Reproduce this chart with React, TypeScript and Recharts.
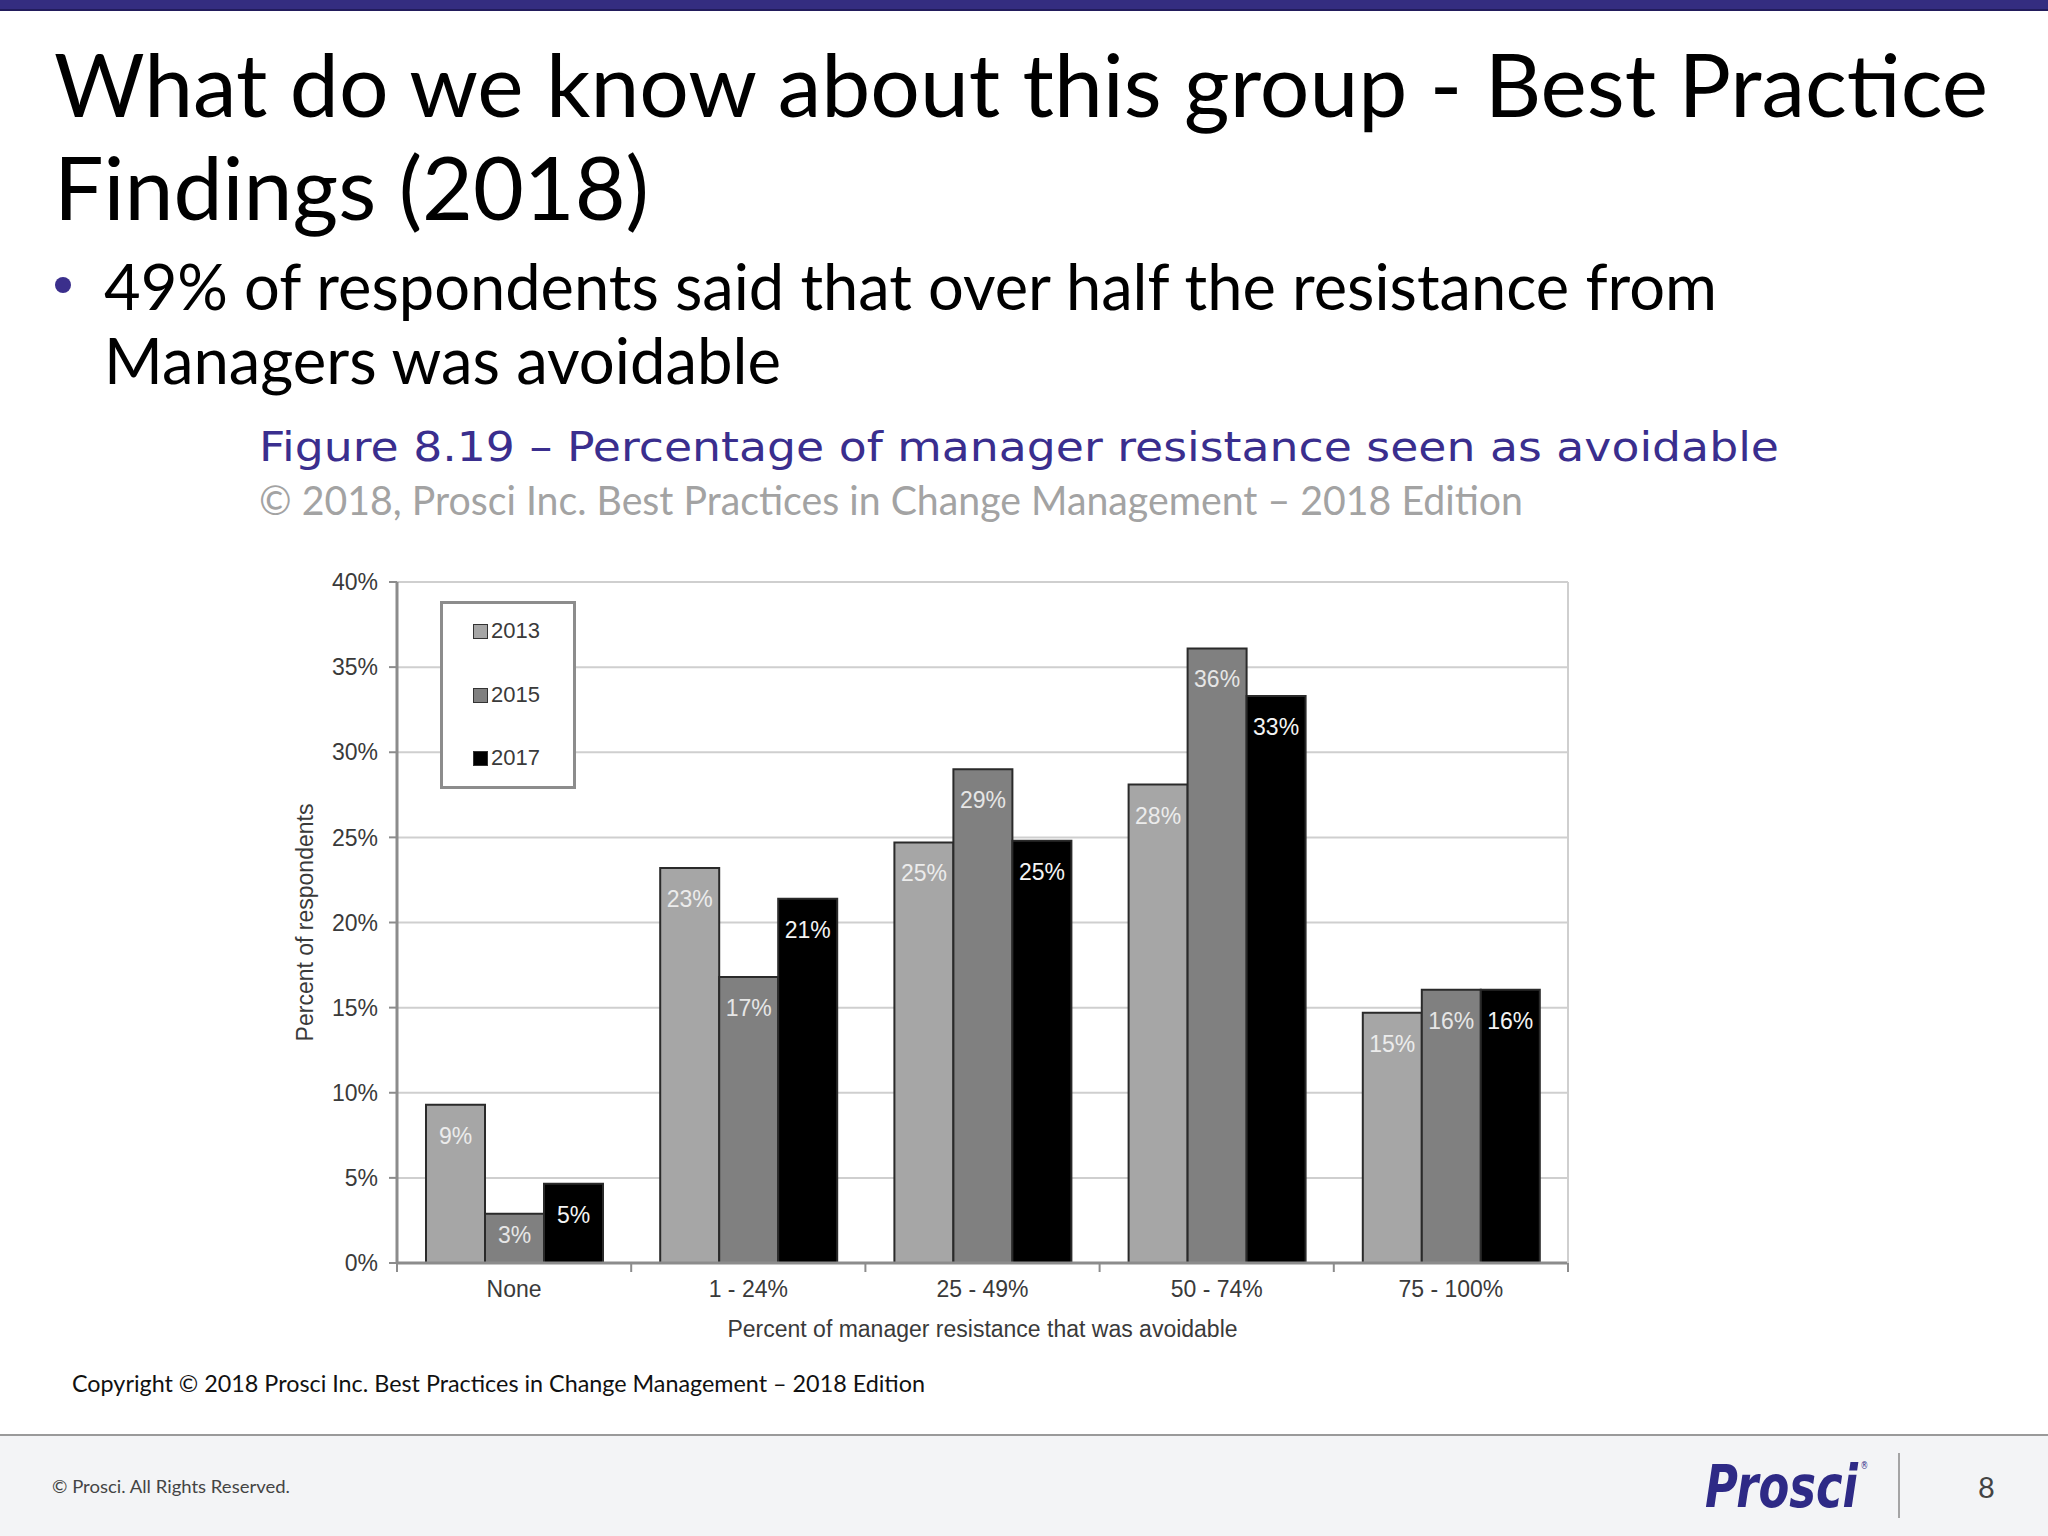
import {
  Bar,
  BarChart,
  CartesianGrid,
  Label,
  LabelList,
  Legend,
  XAxis,
  YAxis,
} from 'recharts'

const categories = ['None', '1 - 24%', '25 - 49%', '50 - 74%', '75 - 100%']
const values2013 = [9.3, 23.2, 24.7, 28.1, 14.7]
const values2015 = [2.9, 16.8, 29.0, 36.1, 16.05]
const values2017 = [4.65, 21.4, 24.8, 33.3, 16.05]
const yTicks = [0, 5, 10, 15, 20, 25, 30, 35, 40]

const series = [
  { key: 'y2013', name: '2013', fill: '#a6a6a6', label: '#ececec' },
  { key: 'y2015', name: '2015', fill: '#808080', label: '#e6e6e6' },
  { key: 'y2017', name: '2017', fill: '#000000', label: '#f4f4f4' },
]

const data = categories.map((name, i) => ({
  name,
  y2013: values2013[i],
  y2015: values2015[i],
  y2017: values2017[i],
}))

const CHART_W = 1320
const CHART_H = 800
const Y_AXIS_W = 117
const RIGHT_W = 32
const PLOT_W = CHART_W - Y_AXIS_W - RIGHT_W
const CHART_FONT = '"Liberation Sans", Arial, sans-serif'
const SLIDE_FONT = 'Lato, "Open Sans", sans-serif'
const axisGray = '#8c8c8c'
const textGray = '#3a3a3a'

function XTick(props: any) {
  const { x, y, payload, index } = props
  const band = PLOT_W / categories.length
  const left = x - band / 2
  return (
    <g>
      <line x1={left} y1={y} x2={left} y2={y + 9} stroke={axisGray} strokeWidth={2} />
      {index === categories.length - 1 && (
        <line x1={left + band} y1={y} x2={left + band} y2={y + 9} stroke={axisGray} strokeWidth={2} />
      )}
      <text
        x={x}
        y={y + 34}
        textAnchor="middle"
        fill={textGray}
        fontSize={23}
        fontFamily={CHART_FONT}
      >
        {payload.value}
      </text>
    </g>
  )
}

function barLabel(color: string) {
  return (props: any) => {
    const { x, y, width, height, value } = props
    const baseline = Math.min(y + 39, y + height * 0.6)
    return (
      <text
        x={x + width / 2}
        y={baseline}
        textAnchor="middle"
        fill={color}
        fontSize={23}
        fontFamily={CHART_FONT}
      >
        {`${Math.round(value)}%`}
      </text>
    )
  }
}

function LegendBox() {
  return (
    <div
      style={{
        width: 136,
        height: 188,
        boxSizing: 'border-box',
        border: `3px solid ${axisGray}`,
        background: '#fff',
        position: 'relative',
      }}
    >
      {series.map((s, i) => (
        <div
          key={s.key}
          style={{
            position: 'absolute',
            left: 30,
            top: [27, 91, 154][i] - 11,
            height: 22,
            display: 'flex',
            alignItems: 'center',
          }}
        >
          <span
            style={{
              width: 15,
              height: 15,
              boxSizing: 'border-box',
              border: '1.5px solid #333',
              background: s.fill,
              display: 'inline-block',
            }}
          />
          <span
            style={{
              marginLeft: 3,
              fontSize: 22,
              lineHeight: '22px',
              fontFamily: CHART_FONT,
              color: textGray,
            }}
          >
            {s.name}
          </span>
        </div>
      ))}
    </div>
  )
}

function YTitle(props: any) {
  const vb = props.viewBox || { x: 0, y: 0, height: 0 }
  const cx = vb.x + 27
  const cy = vb.y + vb.height / 2
  return (
    <text
      x={cx}
      y={cy}
      transform={`rotate(-90 ${cx} ${cy})`}
      textAnchor="middle"
      dominantBaseline="middle"
      fill={textGray}
      fontSize={23}
      fontFamily={CHART_FONT}
    >
      Percent of respondents
    </text>
  )
}

function Slide() {
  return (
    <svg
      width={2048}
      height={1536}
      style={{ position: 'absolute', left: 0, top: 0 }}
    >
      <rect x={0} y={0} width={2048} height={1536} fill="#fff" />
      <rect x={0} y={0} width={2048} height={10} fill="#342d80" />
      <rect x={0} y={9} width={2048} height={2} fill="#221c5c" />

      <text x={54} y={117} fontFamily={SLIDE_FONT} fontSize={87} fill="#000" textLength={1934} lengthAdjust="spacingAndGlyphs">
        What do we know about this group - Best Practice
      </text>
      <text x={54} y={220} fontFamily={SLIDE_FONT} fontSize={87} fill="#000" textLength={595} lengthAdjust="spacingAndGlyphs">
        Findings (2018)
      </text>

      <circle cx={63} cy={285} r={8} fill="#3b2f8c" />
      <text x={104} y={310} fontFamily={SLIDE_FONT} fontSize={63} fill="#000" textLength={1613} lengthAdjust="spacingAndGlyphs">
        49% of respondents said that over half the resistance from
      </text>
      <text x={104} y={384} fontFamily={SLIDE_FONT} fontSize={63} fill="#000" textLength={677} lengthAdjust="spacingAndGlyphs">
        Managers was avoidable
      </text>

      <text x={259} y={461} fontFamily='"DejaVu Sans", Verdana, sans-serif' fontSize={41} fill="#3a2e8e" textLength={1520} lengthAdjust="spacingAndGlyphs">
        Figure 8.19 – Percentage of manager resistance seen as avoidable
      </text>
      <text x={259} y={515} fontFamily={SLIDE_FONT} fontSize={41} fill="#a3a3a3" textLength={1264} lengthAdjust="spacingAndGlyphs">
        © 2018, Prosci Inc. Best Practices in Change Management – 2018 Edition
      </text>

      <text x={72} y={1392} fontFamily={SLIDE_FONT} fontSize={24} fill="#111" textLength={853} lengthAdjust="spacingAndGlyphs">
        Copyright © 2018 Prosci Inc. Best Practices in Change Management – 2018 Edition
      </text>

      <rect x={0} y={1436} width={2048} height={100} fill="#f3f4f6" />
      <rect x={0} y={1434} width={2048} height={2} fill="#9a9a9a" />
      <text x={52} y={1493} fontFamily={SLIDE_FONT} fontSize={18} fill="#444" textLength={238} lengthAdjust="spacingAndGlyphs">
        © Prosci. All Rights Reserved.
      </text>
      <g transform="translate(1705 1507) scale(0.86 1)">
        <text
          x={0}
          y={0}
          fontFamily='"Liberation Sans Narrow", "DejaVu Sans Condensed", sans-serif'
          fontSize={58}
          fontWeight={700}
          fontStyle="italic"
          fill="#2e2a86"
        >
          Prosci
          <tspan dx={3} dy={-38} fontSize={10} fontStyle="normal" fontWeight={400}>
            ®
          </tspan>
        </text>
      </g>
      <line x1={1899} y1={1453} x2={1899} y2={1518} stroke="#8a8a8a" strokeWidth={1.5} />
      <text x={1978} y={1498} fontFamily={SLIDE_FONT} fontSize={29} fill="#444">
        8
      </text>
    </svg>
  )
}

export default function App() {
  return (
    <div style={{ position: 'absolute', left: 0, top: 0, width: 2048, height: 1536 }}>
      <Slide />
      <div style={{ position: 'absolute', left: 280, top: 560, width: CHART_W, height: CHART_H }}>
        <BarChart
          width={CHART_W}
          height={CHART_H}
          data={data}
          margin={{ top: 22, right: 0, bottom: 0, left: 0 }}
          barSize={59}
          barGap={0}
        >
          <CartesianGrid vertical={false} stroke="#cfcfcf" strokeWidth={2} />
          <XAxis
            dataKey="name"
            height={97}
            tickLine={false}
            tickSize={0}
            tickMargin={0}
            axisLine={{ stroke: axisGray, strokeWidth: 3 }}
            tick={XTick}
            interval={0}
          >
            <Label
              value="Percent of manager resistance that was avoidable"
              position="insideBottom"
              offset={23}
              fill={textGray}
              fontSize={23}
              fontFamily={CHART_FONT}
            />
          </XAxis>
          <YAxis
            width={Y_AXIS_W}
            domain={[0, 40]}
            ticks={yTicks}
            interval={0}
            tickFormatter={(v) => `${v}%`}
            tick={{ fill: textGray, fontSize: 23, fontFamily: CHART_FONT }}
            tickLine={{ stroke: axisGray, strokeWidth: 2 }}
            tickSize={8}
            tickMargin={11}
            axisLine={{ stroke: axisGray, strokeWidth: 3 }}
          >
            <Label content={YTitle} />
          </YAxis>
          <YAxis
            yAxisId="right"
            orientation="right"
            width={RIGHT_W}
            domain={[0, 40]}
            tick={false}
            tickLine={false}
            axisLine={{ stroke: '#cfcfcf', strokeWidth: 2 }}
          />
          <Legend
            layout="vertical"
            align="center"
            verticalAlign="middle"
            content={() => <LegendBox />}
            wrapperStyle={{ position: 'absolute', left: 160, top: 41, width: 136, height: 188 }}
          />
          {series.map((s) => (
            <Bar
              key={s.key}
              dataKey={s.key}
              name={s.name}
              fill={s.fill}
              stroke="#2a2a2a"
              strokeWidth={2}
              isAnimationActive={false}
            >
              <LabelList dataKey={s.key} content={barLabel(s.label)} />
            </Bar>
          ))}
        </BarChart>
      </div>
    </div>
  )
}
